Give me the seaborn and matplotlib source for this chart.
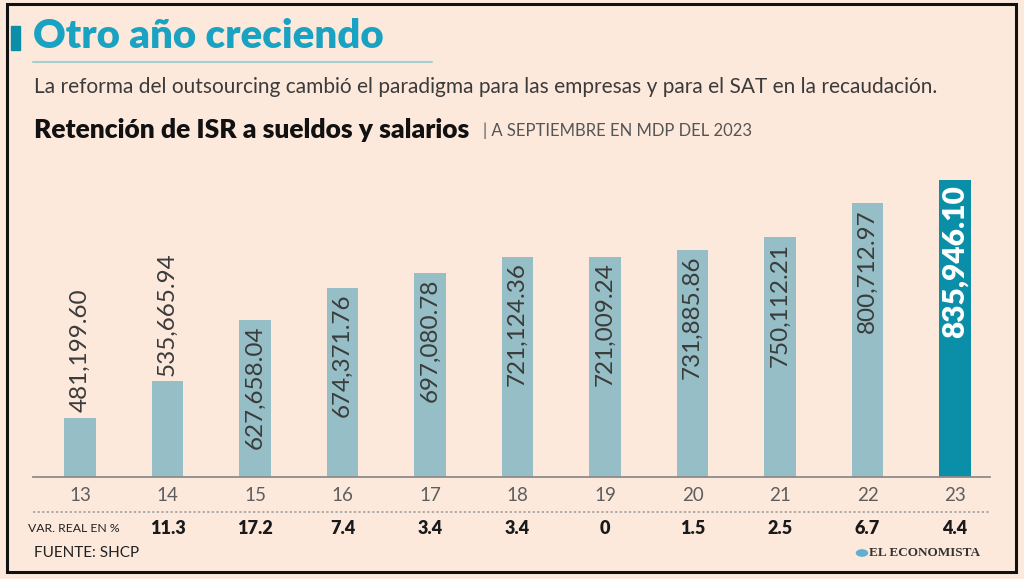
import matplotlib
matplotlib.use("Agg")
import matplotlib.pyplot as plt
from matplotlib.patches import Rectangle, Circle
from matplotlib.lines import Line2D
import seaborn as sns
import pandas as pd

# ---- data ----
years = ["13", "14", "15", "16", "17", "18", "19", "20", "21", "22", "23"]
retencion = [481199.60, 535665.94, 627658.04, 674371.76, 697080.78, 721124.36,
             721009.24, 731885.86, 750112.21, 800712.97, 835946.10]
var_real = [None, 11.3, 17.2, 7.4, 3.4, 3.4, 0, 1.5, 2.5, 6.7, 4.4]

title = "Otro año creciendo"
subtitle = "La reforma del outsourcing cambió el paradigma para las empresas y para el SAT en la recaudación."
chart_title = "Retención de ISR a sueldos y salarios"
chart_unit = "| A SEPTIEMBRE EN MDP DEL 2023"
var_label = "VAR. REAL EN %"
source = "FUENTE: SHCP"
brand = "EL ECONOMISTA"

BG = "#FCE9DC"
LIGHT = "#95BEC6"
DARK = "#0B8EA8"
TITLE_C = "#1AA2C2"
TXT = "#3b3b3b"

sns.set_theme(style="white")
plt.rcParams["font.family"] = ["Lato", "DejaVu Sans"]

W, H = 1024, 579
fig = plt.figure(figsize=(W / 100, H / 100), dpi=100, facecolor=BG)

def fx(x):
    return x / W

def fy(y):
    return 1 - y / H

# frame
fig.patches.append(Rectangle((fx(7), fy(572)), fx(1016) - fx(7), fy(4) - fy(572),
                             transform=fig.transFigure, fill=False, edgecolor="#111111",
                             linewidth=2.2, zorder=0))
# title marker and underline
fig.patches.append(Rectangle((fx(11), fy(50)), fx(20) - fx(11), fy(26) - fy(50),
                             transform=fig.transFigure, color=DARK, zorder=1))
fig.lines.append(Line2D([fx(33), fx(432)], [fy(62), fy(62)], transform=fig.transFigure,
                        color="#A8CED5", linewidth=1.5))

fig.text(fx(33), fy(37), title, fontsize=29, fontweight="heavy", color=TITLE_C,
         va="center", ha="left")
fig.text(fx(34), fy(87), subtitle, fontsize=15, fontweight="normal", color=TXT,
         va="center", ha="left")
fig.text(fx(34), fy(130), chart_title, fontsize=19, fontweight="heavy", color="#111111",
         va="center", ha="left")
fig.text(fx(483), fy(131), chart_unit, fontsize=12, fontweight="normal", color="#555555",
         va="center", ha="left")

# ---- bars ----
df = pd.DataFrame({"year": years, "value": retencion})
palette = {y: (DARK if i == len(years) - 1 else LIGHT) for i, y in enumerate(years)}

ax = fig.add_axes([fx(33), fy(477), fx(990) - fx(33), fy(165) - fy(477)])
ax.set_facecolor("none")
sns.barplot(data=df, x="year", y="value", hue="year", palette=palette, dodge=False,
            legend=False, width=0.355, saturation=1, linewidth=0, ax=ax)
ax.set_ylim(393000, 858000)
ax.set_xlim(-0.537, 10.4)
for s in ["top", "right", "left"]:
    ax.spines[s].set_visible(False)
ax.spines["bottom"].set_color("#8c8c8c")
ax.spines["bottom"].set_linewidth(1.3)
ax.set_yticks([])
ax.set_xlabel("")
ax.set_ylabel("")
ax.tick_params(axis="x", length=0, pad=7, labelsize=13.5, labelcolor="#5e5e5e")

threshold = 600000
for i, v in enumerate(retencion):
    label = f"{v:,.2f}"
    if i == len(retencion) - 1:
        ax.annotate(label, (i, v), xytext=(0, -4), textcoords="offset points",
                    rotation=90, ha="center", va="top", fontsize=21.5,
                    fontweight="heavy", color="white")
    elif v < threshold:
        ax.annotate(label, (i, v), xytext=(0, 4), textcoords="offset points",
                    rotation=90, ha="center", va="bottom", fontsize=17.5,
                    fontweight="normal", color=TXT)
    else:
        ax.annotate(label, (i, v), xytext=(0, -4), textcoords="offset points",
                    rotation=90, ha="center", va="top", fontsize=17.5,
                    fontweight="normal", color=TXT)

# dotted separator
sep_y = fy(512)
fig.lines.append(Line2D([fx(33), fx(990)], [sep_y, sep_y], transform=fig.transFigure,
                        color="#9a9a9a", linewidth=1.1, linestyle=(0, (1.5, 1.5))))

# variation row
trans = matplotlib.transforms.blended_transform_factory(ax.transData, fig.transFigure)
for i, p in enumerate(var_real):
    if p is None:
        continue
    ax.text(i, fy(528), f"{p:g}", transform=trans, ha="center", va="center",
            fontsize=13, fontweight="heavy", color="#1a1a1a")
fig.text(fx(28), fy(528), var_label, fontsize=8.8, color="#222222", va="center",
         ha="left")

fig.text(fx(34), fy(553), source, fontsize=11, fontweight="normal", color="#222222",
         va="center", ha="left")

fig.patches.append(Circle((fx(862), fy(553)), 5.5 / W, transform=fig.transFigure,
                          color="#5FAFD0"))
fig.text(fx(869), fy(553), brand, fontsize=9.5, fontweight="bold",
         family=["Liberation Serif", "DejaVu Serif"], color="#333333",
         va="center", ha="left")

fig.savefig("out.png", dpi=100, facecolor=BG)
